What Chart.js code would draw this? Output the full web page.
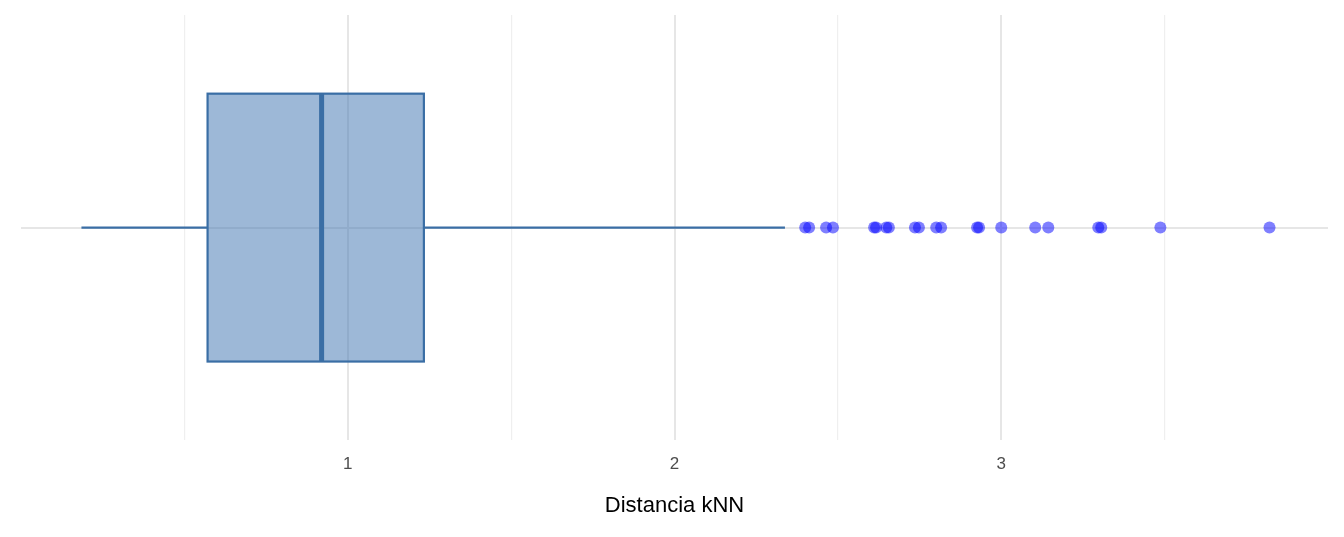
<!DOCTYPE html>
<html><head><meta charset="utf-8">
<script src="https://cdn.jsdelivr.net/npm/chart.js@4/dist/chart.umd.min.js"></script>
<style>html,body{margin:0;padding:0;background:#fff}#w{width:1344px;height:537px}</style>
</head><body><div id="w"><canvas id="c"></canvas></div>
<script>
const whiskerLow = 0.185;
const q1 = 0.571;
const median = 0.920;
const q3 = 1.233;
const whiskerHigh = 2.338;
const outliers = [2.400,2.412,2.464,2.485,2.611,2.617,2.648,2.656,2.736,2.748,2.801,2.816,2.926,2.932,3.000,3.104,3.144,3.297,3.306,3.487,3.821];
const tickLabels = ['1','2','3'];

const boxPlugin = {
  id:'box',
  beforeDatasetsDraw(chart){
    const {ctx, scales:{x,y}} = chart;
    const x1=x.getPixelForValue(q1), x2=x.getPixelForValue(q3), xm=x.getPixelForValue(median);
    const yt=y.getPixelForValue(0.63), yb=y.getPixelForValue(-0.63);
    ctx.save();
    ctx.fillStyle='rgba(70,120,180,0.53)';
    ctx.fillRect(x1,yt,x2-x1,yb-yt);
    ctx.strokeStyle='#3a6ea5';ctx.lineWidth=2.2;
    ctx.strokeRect(x1,yt,x2-x1,yb-yt);
    ctx.lineWidth=5;ctx.beginPath();ctx.moveTo(xm,yt);ctx.lineTo(xm,yb);ctx.stroke();
    ctx.restore();
  }
};
new Chart(document.getElementById('c'),{
  type:'scatter',
  data:{datasets:[
    {type:'line',data:[{x:whiskerLow,y:0},{x:q1,y:0}],borderColor:'#3a6ea5',borderWidth:2.2,pointRadius:0},
    {type:'line',data:[{x:q3,y:0},{x:whiskerHigh,y:0}],borderColor:'#3a6ea5',borderWidth:2.2,pointRadius:0},
    {data:outliers.map(v=>({x:v,y:0})),backgroundColor:'rgba(0,0,255,0.5)',borderWidth:0,pointRadius:6,pointHoverRadius:6}
  ]},
  options:{
    responsive:true,maintainAspectRatio:false,animation:false,
    layout:{padding:{left:21,right:16,top:15,bottom:14}},
    plugins:{legend:{display:false},tooltip:{enabled:false}},
    scales:{
      x:{type:'linear',min:0,max:4,border:{display:false},
        ticks:{stepSize:0.5,color:'#4d4d4d',font:{family:'Liberation Sans, Arial',size:17},padding:14,
          callback:(v)=>{const i=[1,2,3].indexOf(v);return i>=0?tickLabels[i]:'';}},
        grid:{drawTicks:false,color:(c)=>{const v=c.tick.value;if(v<=0||v>=4)return 'rgba(0,0,0,0)';return Number.isInteger(v)?'#e6e6e6':'#efefef';},
          lineWidth:(c)=>Number.isInteger(c.tick.value)?2:1.2},
        title:{display:true,text:'Distancia kNN',color:'#000',font:{family:'Liberation Sans, Arial',size:22},padding:{top:4}}},
      y:{type:'linear',min:-1,max:1,border:{display:false},
        ticks:{display:false,stepSize:1},
        grid:{drawTicks:false,color:(c)=>c.tick.value===0?'#e6e6e6':'rgba(0,0,0,0)',lineWidth:2}}
    }
  },
  plugins:[boxPlugin]
});
</script></body></html>
